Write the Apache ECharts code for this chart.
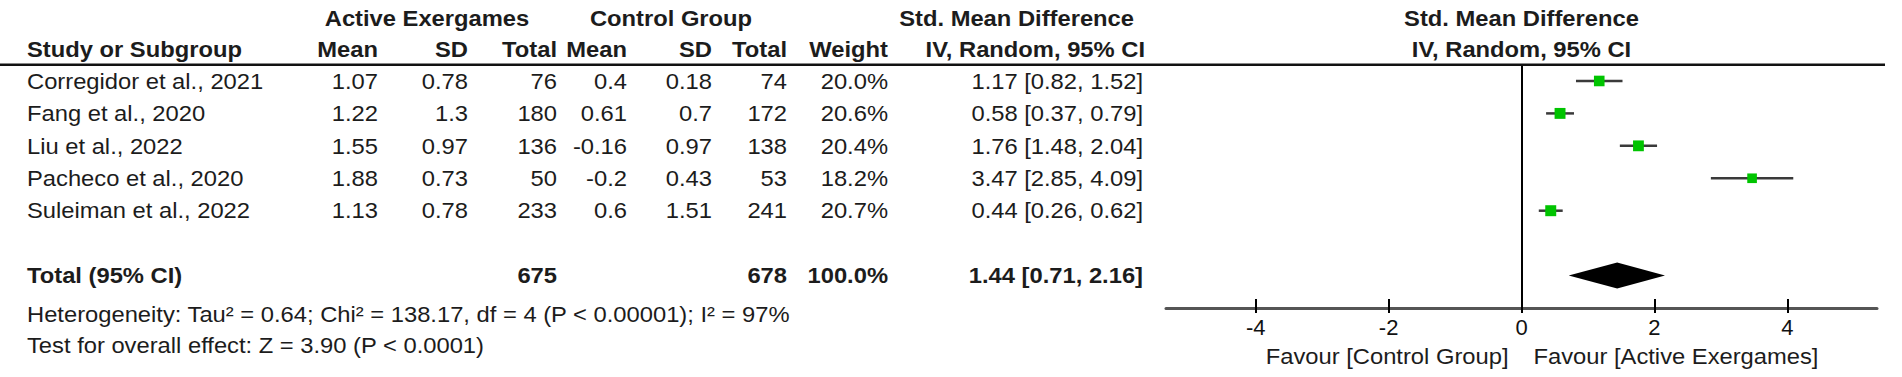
<!DOCTYPE html>
<html><head><meta charset="utf-8">
<script src="https://cdn.jsdelivr.net/npm/echarts@6/dist/echarts.min.js"></script>
<style>html,body{margin:0;padding:0;background:#fff;}#chart{width:1902px;height:377px;}</style>
</head><body><div id="chart"></div>
<script>
// ---------------- data ----------------
const studies = ["Corregidor et al., 2021", "Fang et al., 2020", "Liu et al., 2022", "Pacheco et al., 2020", "Suleiman et al., 2022"];
const expMean = [1.07, 1.22, 1.55, 1.88, 1.13];
const expSD = [0.78, 1.3, 0.97, 0.73, 0.78];
const expN = [76, 180, 136, 50, 233];
const ctlMean = [0.4, 0.61, -0.16, -0.2, 0.6];
const ctlSD = [0.18, 0.7, 0.97, 0.43, 1.51];
const ctlN = [74, 172, 138, 53, 241];
const weights = [20.0, 20.6, 20.4, 18.2, 20.7];
const smd = [1.17, 0.58, 1.76, 3.47, 0.44];
const lower = [0.82, 0.37, 1.48, 2.85, 0.26];
const upper = [1.52, 0.79, 2.04, 4.09, 0.62];
const totalLabel = "Total (95% CI)";
const totalExpN = 675;
const totalCtlN = 678;
const totalWeight = 100.0;
const totalSMD = 1.44;
const totalLower = 0.71;
const totalUpper = 2.16;
const heterogeneityText = "Heterogeneity: Tau\u00B2 = 0.64; Chi\u00B2 = 138.17, df = 4 (P < 0.00001); I\u00B2 = 97%";
const overallText = "Test for overall effect: Z = 3.90 (P < 0.0001)";
const xTicks = [-4, -2, 0, 2, 4];
const favourLeft = "Favour [Control Group]";
const favourRight = "Favour [Active Exergames]";
const groupHeaders = ["Active Exergames", "Control Group"];
const colHeaders = ["Study or Subgroup", "Mean", "SD", "Total", "Mean", "SD", "Total", "Weight"];
const effectHeader = ["Std. Mean Difference", "IV, Random, 95% CI"];

// ---------------- layout ----------------
const FONT = '"Liberation Sans", Arial, sans-serif';
const FS = 22;
const SX = 1.08;
const TXT = '#1c1c1c';
const COL = { label: 27, eMean: 378, eSD: 468, eN: 557, cMean: 627, cSD: 712, cN: 787, w: 888, ci: 1143 };
const ROW_H1 = -1.93, ROW_H2 = -0.97, ROW_TOTAL = 6, ROW_HET = 7.2, ROW_TEST = 8.15, ROW_FAV = 8.5;

const chart = echarts.init(document.getElementById('chart'), null, { renderer: 'svg' });

const studyData = studies.map((s, i) => [smd[i], i, lower[i], upper[i], weights[i]]);

const option = {
  animation: false,
  grid: { left: 1166, right: 25, top: 64.75, bottom: 69 },
  xAxis: [{
    type: 'value', min: -5.35, max: 5.35, position: 'bottom',
    axisLine: { onZero: false, lineStyle: { color: '#555', width: 3 } },
    splitLine: { show: false },
    axisTick: { customValues: xTicks, inside: true, length: 9, lineStyle: { color: '#000', width: 2 } },
    axisLabel: { customValues: xTicks, fontSize: FS, color: '#111', fontFamily: FONT, margin: 8 }
  }, {
    type: 'value', min: -5.35, max: 5.35, position: 'bottom',
    axisLine: { show: false, onZero: false }, splitLine: { show: false },
    axisTick: { customValues: xTicks, inside: false, length: 5, lineStyle: { color: '#000', width: 2 } },
    axisLabel: { show: false }
  }],
  yAxis: { type: 'value', min: -0.5, max: 7, inverse: true, show: false },
  series: [{
    type: 'custom', name: 'Studies', data: studyData, z: 5,
    renderItem: function (params, api) {
      const y = api.value(1);
      const lo = api.coord([api.value(2), y]);
      const hi = api.coord([api.value(3), y]);
      const c = api.coord([api.value(0), y]);
      const s = api.value(4) * 0.53;
      return { type: 'group', children: [
        { type: 'line', shape: { x1: lo[0], y1: lo[1], x2: hi[0], y2: hi[1] }, style: { stroke: '#3a3a3a', lineWidth: 2.5 } },
        { type: 'rect', shape: { x: c[0] - s / 2, y: c[1] - s / 2, width: s, height: s }, style: { fill: '#00c400' } }
      ] };
    },
    markLine: { symbol: 'none', silent: true, animation: false, label: { show: false },
      lineStyle: { color: '#000', width: 2, type: 'solid' }, data: [{ xAxis: 0 }] }
  }, {
    type: 'custom', name: 'Total', data: [[totalSMD, ROW_TOTAL, totalLower, totalUpper]], z: 5,
    renderItem: function (params, api) {
      const y = api.value(1);
      const l = api.coord([api.value(2), y]);
      const r = api.coord([api.value(3), y]);
      const c = api.coord([api.value(0), y]);
      const h = 13;
      return { type: 'polygon', shape: { points: [l, [c[0], c[1] - h], r, [c[0], c[1] + h]] }, style: { fill: '#000' } };
    }
  }]
};
chart.setOption(option);

const ypx = r => chart.convertToPixel({ yAxisIndex: 0 }, r);
const xpx = v => chart.convertToPixel({ xAxisIndex: 0 }, v);

function txt(text, x, row, align, bold) {
  return {
    type: 'text', x: x, y: ypx(row), scaleX: SX, silent: true, z: 10,
    style: {
      text: String(text), fill: TXT,
      font: (bold ? 'bold ' : '') + FS + 'px ' + FONT,
      align: align, textAlign: align, verticalAlign: 'middle', textVerticalAlign: 'middle'
    }
  };
}
const f2 = v => v.toFixed(2);
const ciText = (e, l, u) => f2(e) + ' [' + f2(l) + ', ' + f2(u) + ']';

const g = [];
const x0 = xpx(0);
// header row 1
g.push(txt(groupHeaders[0], 427, ROW_H1, 'center', true));
g.push(txt(groupHeaders[1], 671, ROW_H1, 'center', true));
g.push(txt(effectHeader[0], 1134, ROW_H1, 'right', true));
g.push(txt(effectHeader[0], x0, ROW_H1, 'center', true));
// header row 2
g.push(txt(colHeaders[0], COL.label, ROW_H2, 'left', true));
const hcols = [COL.eMean, COL.eSD, COL.eN, COL.cMean, COL.cSD, COL.cN, COL.w];
for (let k = 1; k < colHeaders.length; k++) g.push(txt(colHeaders[k], hcols[k - 1], ROW_H2, 'right', true));
g.push(txt(effectHeader[1], 1145, ROW_H2, 'right', true));
g.push(txt(effectHeader[1], x0, ROW_H2, 'center', true));
// study rows
studies.forEach((s, i) => {
  g.push(txt(s, COL.label, i, 'left', false));
  g.push(txt(expMean[i], COL.eMean, i, 'right', false));
  g.push(txt(expSD[i], COL.eSD, i, 'right', false));
  g.push(txt(expN[i], COL.eN, i, 'right', false));
  g.push(txt(ctlMean[i], COL.cMean, i, 'right', false));
  g.push(txt(ctlSD[i], COL.cSD, i, 'right', false));
  g.push(txt(ctlN[i], COL.cN, i, 'right', false));
  g.push(txt(weights[i].toFixed(1) + '%', COL.w, i, 'right', false));
  g.push(txt(ciText(smd[i], lower[i], upper[i]), COL.ci, i, 'right', false));
});
// total row
g.push(txt(totalLabel, COL.label, ROW_TOTAL, 'left', true));
g.push(txt(totalExpN, COL.eN, ROW_TOTAL, 'right', true));
g.push(txt(totalCtlN, COL.cN, ROW_TOTAL, 'right', true));
g.push(txt(totalWeight.toFixed(1) + '%', COL.w, ROW_TOTAL, 'right', true));
g.push(txt(ciText(totalSMD, totalLower, totalUpper), COL.ci, ROW_TOTAL, 'right', true));
// footers
g.push(txt(heterogeneityText, COL.label, ROW_HET, 'left', false));
g.push(txt(overallText, COL.label, ROW_TEST, 'left', false));
g.push(txt(favourLeft, x0 - 13, ROW_FAV, 'right', false));
g.push(txt(favourRight, x0 + 12, ROW_FAV, 'left', false));
// header rule
const yLine = ypx(-0.5);
g.push({ type: 'line', silent: true, z: 9, shape: { x1: 0, y1: yLine, x2: 1885, y2: yLine }, style: { stroke: '#111', lineWidth: 2.5 } });

chart.setOption({ graphic: { elements: g } });
</script>
</body></html>
